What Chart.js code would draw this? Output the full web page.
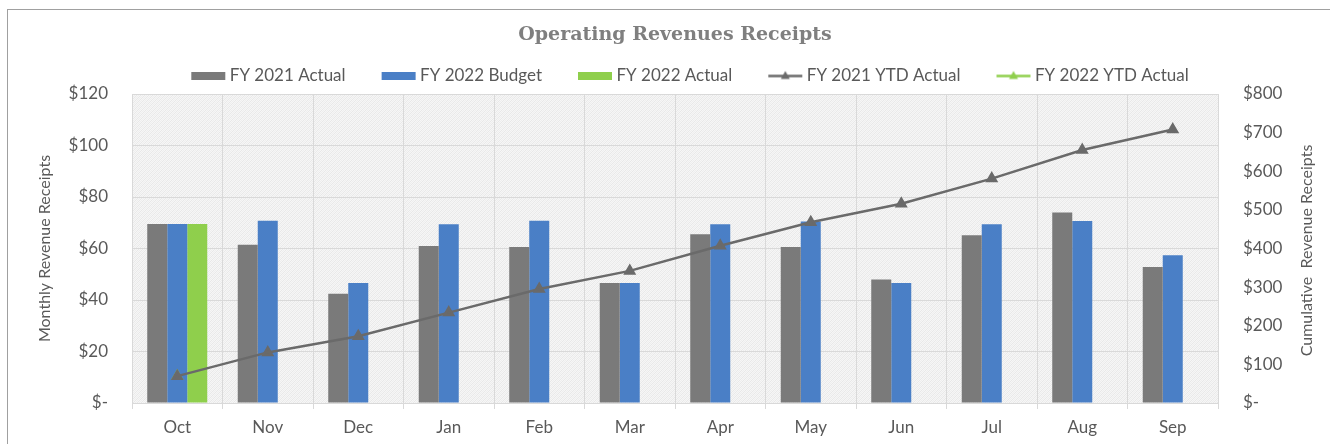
<!DOCTYPE html>
<html><head><meta charset="utf-8">
<script src="https://cdn.jsdelivr.net/npm/chart.js@4.4.1/dist/chart.umd.min.js"></script>
<style>
html,body{margin:0;padding:0;background:#fff;overflow:hidden;width:1330px;height:444px;}
#frame{position:absolute;left:7px;top:9px;width:1400px;height:500px;border:1px solid #a0a0a0;box-sizing:border-box;}
#wrap{position:absolute;left:0;top:0;width:1330px;height:444px;}
</style></head><body>
<div id="frame"></div>
<div id="wrap"><canvas id="c" width="1330" height="444"></canvas></div>
<script>
const months = ['Oct','Nov','Dec','Jan','Feb','Mar','Apr','May','Jun','Jul','Aug','Sep'];
const fy2021Actual = [69.5, 61.5, 42.4, 61.0, 60.6, 46.6, 65.5, 60.6, 48.0, 65.1, 74.0, 52.8];
const fy2022Budget = [69.5, 70.8, 46.6, 69.4, 70.8, 46.6, 69.4, 70.5, 46.6, 69.4, 70.7, 57.4];
const fy2022Actual = [69.5, null, null, null, null, null, null, null, null, null, null, null];
const fy2021YTD = [69.5, 131, 173, 234, 295, 342, 407, 468, 516, 581, 655, 708];
const fy2022YTD = [69.5, null, null, null, null, null, null, null, null, null, null, null];
const leftTicks = [0, 20, 40, 60, 80, 100, 120];
const rightTicks = [0, 100, 200, 300, 400, 500, 600, 700, 800];
const seriesNames = ['FY 2021 Actual','FY 2022 Budget','FY 2022 Actual','FY 2021 YTD Actual','FY 2022 YTD Actual'];
const rightTitle = 'Cumulative  Revenue Receipts';

const C_GREY = '#7a7a7a', C_BLUE = '#4a7fc6', C_GREEN = '#8fcf4c', C_LINE = '#6a6a6a';
const TXT = '#595959';
const FONT = 'Lato';

function money(v){ return v === 0 ? '$-' : '$' + v; }

function swatchBar(color){
  const c = document.createElement('canvas'); c.width = 70; c.height = 8;
  const x = c.getContext('2d'); x.fillStyle = color; x.fillRect(35, 0, 34, 8); return c;
}
function swatchLine(lineColor, markColor){
  const c = document.createElement('canvas'); c.width = 70; c.height = 12;
  const x = c.getContext('2d');
  x.strokeStyle = lineColor; x.lineWidth = 2.5;
  x.beginPath(); x.moveTo(35, 6.5); x.lineTo(69, 6.5); x.stroke();
  x.fillStyle = markColor; x.beginPath(); x.moveTo(52, 1.5); x.lineTo(56.5, 9.5); x.lineTo(47.5, 9.5); x.closePath(); x.fill();
  return c;
}
const swatches = [swatchBar(C_GREY), swatchBar(C_BLUE), swatchBar(C_GREEN), swatchLine(C_LINE, C_LINE), swatchLine(C_GREEN, C_GREEN)];

function hatch(){
  const c = document.createElement('canvas'); c.width = 4; c.height = 4;
  const x = c.getContext('2d');
  x.fillStyle = '#f6f6f6'; x.fillRect(0,0,4,4);
  x.fillStyle = '#e8e8e8';
  for (let i = 0; i < 4; i++) { x.fillRect(i, 3 - i, 1, 1); }
  x.fillStyle = '#eeeeee';
  for (let i = 0; i < 4; i++) { x.fillRect(i, (5 - i) % 4, 1, 1); }
  return c;
}
const bgPlugin = {
  id: 'bg',
  beforeDraw(chart){
    const {ctx, chartArea: a} = chart;
    ctx.save();
    ctx.fillStyle = ctx.createPattern(hatch(), 'repeat');
    ctx.fillRect(a.left, a.top, a.right - a.left, a.bottom - a.top);
    ctx.restore();
  }
};
// Right axis title reads bottom-to-top like the left one
const rightTitlePlugin = {
  id: 'rightTitle',
  afterDraw(chart){
    const s = chart.scales.y1, ctx = chart.ctx;
    ctx.save();
    ctx.translate(s.right - 23, (s.top + s.bottom) / 2 + 2);
    ctx.rotate(-Math.PI / 2);
    ctx.fillStyle = TXT;
    ctx.font = '16px ' + FONT;
    ctx.textAlign = 'center';
    ctx.textBaseline = 'middle';
    ctx.fillText(rightTitle, 0, 0);
    ctx.restore();
  }
};

new Chart(document.getElementById('c'), {
  data: {
    labels: months,
    datasets: [
      {type:'bar', label: seriesNames[0], data: fy2021Actual, backgroundColor: C_GREY, yAxisID:'y', order: 1},
      {type:'bar', label: seriesNames[1], data: fy2022Budget, backgroundColor: C_BLUE, yAxisID:'y', order: 1},
      {type:'bar', label: seriesNames[2], data: fy2022Actual, backgroundColor: C_GREEN, yAxisID:'y', order: 1},
      {type:'line', label: seriesNames[3], data: fy2021YTD, borderColor: C_LINE, backgroundColor: C_LINE, borderWidth: 2.5,
        pointStyle:'triangle', pointRadius: 5, pointBackgroundColor: C_LINE, pointBorderColor: C_LINE, tension: 0, yAxisID:'y1', order: 0},
      {type:'line', label: seriesNames[4], data: fy2022YTD, borderColor: C_GREEN, backgroundColor: C_GREEN, borderWidth: 2.5,
        pointStyle:'triangle', pointRadius: 5, pointBackgroundColor: C_GREEN, pointBorderColor: C_GREEN, tension: 0, yAxisID:'y1', order: 0}
    ]
  },
  options: {
    responsive: false,
    animation: false,
    layout: {padding: {left: 0, right: 0, top: 0, bottom: 0}},
    datasets: {bar: {categoryPercentage: 0.663, barPercentage: 1.0}},
    plugins: {
      tooltip: {enabled: false},
      title: {
        display: true, text: 'Operating Revenues Receipts', color: '#7f7f7f', fullSize: false,
        font: {family: 'DejaVu Serif', size: 19, weight: 'bold'},
        padding: {top: 20.6, bottom: 14.1}
      },
      legend: {
        display: true, position: 'top', fullSize: false,
        labels: {
          usePointStyle: true, pointStyleWidth: 60, padding: 6, color: TXT,
          font: {family: FONT, size: 17},
          generateLabels: () => seriesNames.map((t, i) => ({
            text: t, pointStyle: swatches[i], fillStyle: 'rgba(0,0,0,0)', strokeStyle: 'rgba(0,0,0,0)',
            lineWidth: 0, hidden: false, datasetIndex: i, fontColor: TXT
          }))
        }
      }
    },
    scales: {
      x: {
        type: 'category', offset: true,
        grid: {display: true, offset: true, color: '#d9d9d9', drawTicks: true, tickLength: 6, tickColor: '#d9d9d9'},
        border: {display: true, color: '#d9d9d9'},
        ticks: {color: TXT, font: {family: FONT, size: 17}, padding: 8, maxRotation: 0, autoSkip: false},
        afterFit(s){ s.height = 41; }
      },
      y: {
        position: 'left', min: 0, max: 120,
        afterBuildTicks(s){ s.ticks = leftTicks.map(v => ({value: v})); },
        grid: {color: '#d9d9d9', drawTicks: false},
        border: {display: false},
        ticks: {color: TXT, font: {family: FONT, size: 17}, padding: 24, callback: money},
        title: {display: true, text: 'Monthly Revenue Receipts', color: TXT, font: {family: FONT, size: 16}, padding: {top: 35.4, bottom: 0}},
        afterFit(s){ s.width = 132; s.paddingTop = 94; }
      },
      y1: {
        position: 'right', min: 0, max: 800,
        afterBuildTicks(s){ s.ticks = rightTicks.map(v => ({value: v})); },
        grid: {display: false, drawTicks: false},
        border: {display: false},
        ticks: {color: TXT, font: {family: FONT, size: 17}, padding: 25, callback: money},
        title: {display: false},
        afterFit(s){ s.width = 112; s.paddingTop = 94; }
      }
    }
  },
  plugins: [bgPlugin, rightTitlePlugin]
});
</script>
</body></html>
